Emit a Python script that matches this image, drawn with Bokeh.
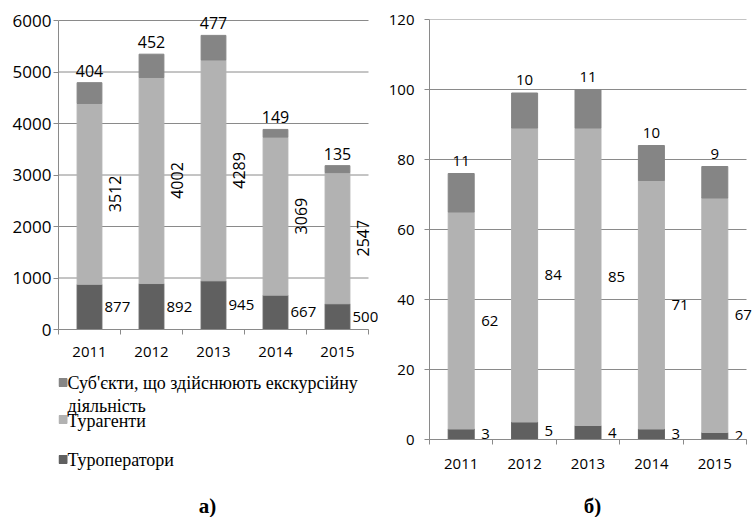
import numpy as np
from bokeh.plotting import figure
from bokeh.models import Range1d, FixedTicker, LabelSet, ColumnDataSource
from bokeh.layouts import row, column
from bokeh.embed import file_html
from bokeh.resources import INLINE
from bokeh.core.properties import value

years = ["2011", "2012", "2013", "2014", "2015"]
a_tour_operators = [877, 892, 945, 667, 500]
a_travel_agents = [3512, 4002, 4289, 3069, 2547]
a_excursion = [404, 452, 477, 149, 135]
b_tour_operators = [3, 5, 4, 3, 2]
b_travel_agents = [62, 84, 85, 71, 67]
b_excursion = [11, 10, 11, 10, 9]
a_y_ticks = [0, 1000, 2000, 3000, 4000, 5000, 6000]
b_y_ticks = [0, 20, 40, 60, 80, 100, 120]
legend_labels = ["Суб'єкти, що здійснюють екскурсійну діяльність", "Турагенти", "Туроператори"]
panel_labels = ["а)", "б)"]

DARK = "#606060"
LIGHT = "#b2b2b2"
MID = "#858585"
AXIS = "#8a8a8a"
FONT = "Open Sans"


def chart(ops, agents, exc, yticks, width, height, bl, bt, bb,
          data_w_px, data_h_px, bar_w, rotate, light_dx, dark_dx, top_dy,
          y_standoff, x_standoff, ytick_size, label_size, dark_size):
    n = len(years)
    x = np.arange(n) + 0.5
    ops = np.array(ops, dtype=float)
    agents = np.array(agents, dtype=float)
    exc = np.array(exc, dtype=float)
    src = ColumnDataSource(dict(
        x=x, ops=ops, b2=ops + agents, top=ops + agents + exc,
        ops_mid=ops / 2, ag_mid=ops + agents / 2,
        ops_txt=[str(int(v)) for v in ops],
        ag_txt=[str(int(v)) for v in agents],
        exc_txt=[str(int(v)) for v in exc],
    ))
    frame_w = width - bl
    frame_h = height - bt - bb
    ymax = yticks[-1]
    p = figure(width=width, height=height, output_backend="svg", toolbar_location=None,
               x_range=Range1d(0, n * frame_w / data_w_px),
               y_range=Range1d(yticks[0], ymax * frame_h / data_h_px),
               min_border_left=bl, min_border_right=0, min_border_top=bt, min_border_bottom=bb)
    p.outline_line_color = None
    p.segment(x0=[0] * len(yticks), x1=[n] * len(yticks), y0=yticks, y1=yticks,
              line_color=AXIS, line_width=1)
    p.vbar(x="x", width=bar_w, bottom=0, top="ops", color=DARK, source=src)
    p.vbar(x="x", width=bar_w, bottom="ops", top="b2", color=LIGHT, source=src)
    p.vbar(x="x", width=bar_w, bottom="b2", top="top", color=MID, source=src)

    common = dict(text_font=value(FONT), text_color="black", source=src)
    p.add_layout(LabelSet(x="x", y="ops_mid", text="ops_txt", x_offset=dark_dx,
                          text_font_size=dark_size,
                          text_align="left", text_baseline="middle", **common))
    if rotate:
        p.add_layout(LabelSet(x="x", y="ag_mid", text="ag_txt", x_offset=light_dx, angle=np.pi / 2,
                              text_font_size=label_size,
                              text_align="center", text_baseline="middle", **common))
    else:
        p.add_layout(LabelSet(x="x", y="ag_mid", text="ag_txt", x_offset=light_dx,
                              text_font_size=label_size,
                              text_align="left", text_baseline="middle", **common))
    p.add_layout(LabelSet(x="x", y="top", text="exc_txt", y_offset=top_dy,
                          text_font_size=label_size,
                          text_align="center", text_baseline="bottom", **common))

    p.xaxis.bounds = (0, n)
    p.yaxis.bounds = (yticks[0], ymax)
    p.xaxis.ticker = FixedTicker(ticks=list(x), minor_ticks=list(range(n + 1)))
    p.xaxis.major_label_overrides = {float(xi): y for xi, y in zip(x, years)}
    p.xaxis.major_tick_out = 0
    p.xaxis.major_tick_in = 0
    p.xaxis.minor_tick_out = 5
    p.xaxis.minor_tick_in = 0
    p.xaxis.minor_tick_line_color = AXIS
    p.xaxis.major_label_standoff = x_standoff
    p.xaxis.major_label_text_font_size = "15px"
    p.yaxis.ticker = FixedTicker(ticks=yticks)
    p.yaxis.major_tick_out = 5
    p.yaxis.major_tick_in = 0
    p.yaxis.minor_tick_out = 0
    p.yaxis.major_label_standoff = y_standoff
    p.yaxis.major_label_text_font_size = ytick_size
    for ax in (p.xaxis, p.yaxis):
        ax.axis_line_color = AXIS
        ax.major_tick_line_color = AXIS
        ax.major_label_text_font = FONT
        ax.major_label_text_color = "black"
    p.grid.visible = False
    return p


# left chart: frame x 58..378 (data 58..368), data y 20..329
pa = chart(a_tour_operators, a_travel_agents, a_excursion, a_y_ticks,
           378, 365, 58, 8, 36, 310, 309, 0.4, True, 26, 15, 6, 2, 12,
           "17px", "16px", "15px")
# right chart: frame x 429..754 (data 429..746), data y 19..439
pb = chart(b_tour_operators, b_travel_agents, b_excursion, b_y_ticks,
           376, 475, 51, 19, 36, 317, 420, 0.41, False, 20, 20, 8, 10, 14,
           "15px", "15px", "15px")


def blank(w, h, frame_w):
    f = figure(width=w, height=h, output_backend="svg", toolbar_location=None,
               x_range=Range1d(0, frame_w), y_range=Range1d(h, 0),
               x_axis_location=None, y_axis_location=None,
               min_border=0, min_border_left=0, min_border_right=0,
               min_border_top=0, min_border_bottom=0)
    f.outline_line_color = None
    f.grid.visible = False
    return f


# legend panel; its frame is aligned with the chart frame above (starts at x=58)
leg = blank(378, 152, 320)
first_lines = legend_labels[0].rsplit(" ", 1)
leg.rect(x=[4.5] * 3, y=[17, 54, 94], width=8, height=8, color=[MID, LIGHT, DARK])
leg.text(x=[9] * 4, y=[17, 40, 55, 94],
         text=[first_lines[0], first_lines[1], legend_labels[1], legend_labels[2]],
         text_font=value("Liberation Serif"), text_font_size="18px",
         text_baseline="middle", text_align="left", text_color="black")
leg.text(x=[149], y=[140], text=[panel_labels[0]], text_font=value("Liberation Serif"),
         text_font_style="bold", text_font_size="21px", text_baseline="middle",
         text_align="center", text_color="black")

cap = blank(376, 42, 325)
cap.text(x=[163], y=[30], text=[panel_labels[1]], text_font=value("Liberation Serif"),
         text_font_style="bold", text_font_size="21px", text_baseline="middle",
         text_align="center", text_color="black")

layout = row(column(pa, leg), column(pb, cap))
open("out.html", "w").write(file_html(layout, INLINE))
